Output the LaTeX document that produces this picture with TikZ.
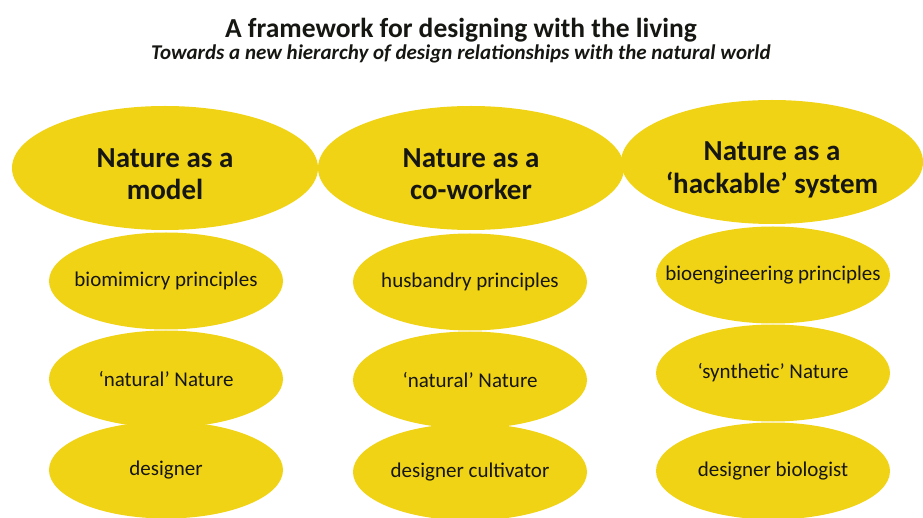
\documentclass[tikz,border=0pt]{standalone}
\usepackage{fontspec}
\setmainfont{Carlito}
\usetikzlibrary{shapes.geometric}
\definecolor{petal}{RGB}{241,211,22}
\definecolor{ink}{RGB}{22,22,18}
% two-line heading lowered inside its ellipse without changing the box size
\newcommand{\headtext}[3]{\raisebox{-#1}[\height][\depth]{\shortstack{#2\\[9pt]#3}}}
\begin{document}
\begin{tikzpicture}[x=1pt,y=-1pt,
  % negative inner sep lets the minimum size alone fix the ellipse
  blob/.style={ellipse,fill=petal,draw=none,inner xsep=-120pt,inner ysep=-40pt,text=ink,align=center},
  headblob/.style={blob,minimum width=306pt,minimum height=124pt,font=\bfseries\fontsize{29}{33}\selectfont},
  itemblob/.style={blob,minimum width=234pt,minimum height=97pt,font=\fontsize{21}{24}\selectfont}]
\useasboundingbox[fill=white] (0,0) rectangle (923,518);
% title block
\node[font=\bfseries\fontsize{27.5}{30}\selectfont,text=ink] (title) at (461,30) {A framework for designing with the living};
\node[font=\bfseries\itshape\fontsize{21}{24}\selectfont,text=ink] (subtitle) at (461,54) {Towards a new hierarchy of design relationships with the natural world};
% column 1: nature as a model
\node[itemblob] (m3) at (166,470) {designer};
\node[itemblob] (m2) at (166,379) {‘natural’ Nature};
\node[itemblob] (m1) at (166,281) {biomimicry principles};
\node[headblob] (m0) at (165,168) {\headtext{6pt}{Nature as a}{model}};
% column 2: nature as a co-worker
\node[itemblob] (c3) at (470,472) {designer cultivator};
\node[itemblob] (c2) at (470,380) {‘natural’ Nature};
\node[itemblob] (c1) at (470,282) {husbandry principles};
\node[headblob] (c0) at (471,168) {\headtext{6pt}{Nature as a}{co-worker}};
% column 3: nature as a hackable system
\node[itemblob] (h3) at (773,471) {designer biologist};
\node[itemblob] (h2) at (773,373) {‘synthetic’ Nature};
\node[itemblob] (h1) at (773,275) {bioengineering principles};
\node[headblob,minimum width=302pt] (h0) at (772,162) {\headtext{8pt}{Nature as a}{‘hackable’ system}};
\end{tikzpicture}
\end{document}
